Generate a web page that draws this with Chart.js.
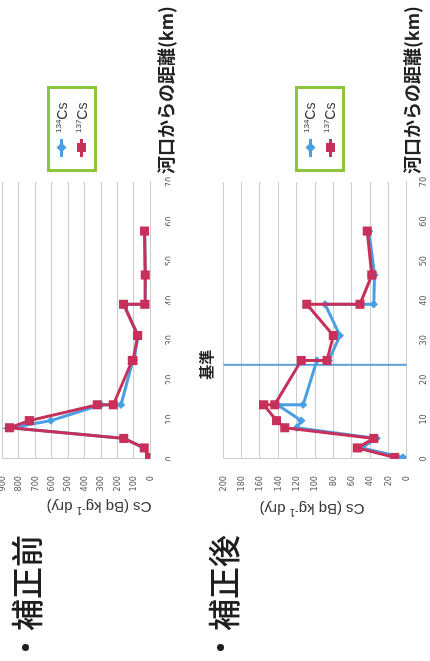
<!DOCTYPE html>
<html>
<head>
<meta charset="utf-8">
<script src="https://cdn.jsdelivr.net/npm/chart.js@4/dist/chart.umd.min.js"></script>
<style>
  html, body { margin: 0; padding: 0; background: #fff; width: 430px; height: 661px; overflow: hidden; }
  /* the slide is laid out landscape, then turned a quarter turn counter-clockwise */
  #slide { position: absolute; left: 0; top: 0; width: 661px; height: 430px;
           transform-origin: 0 0; transform: translateY(661px) rotate(-90deg);
           font-family: 'Noto Sans CJK JP', sans-serif; background: #fff; }
  canvas { position: absolute; left: 0; }
  #cvBefore { top: -20px; }
  #cvAfter { top: 180px; }
  .heading { position: absolute; left: 30px; font-size: 32px; line-height: 32px; font-weight: 500; color: #1e1e1e; white-space: nowrap; }
  .bullet { position: absolute; left: 10px; width: 7px; height: 7px; border-radius: 50%; background: #1e1e1e; }
  .xtitle { position: absolute; left: 487px; font-size: 18px; line-height: 18px; font-weight: 700; color: #222; white-space: nowrap; }
  .ytitle { position: absolute; width: 160px; height: 18px; text-align: center; font-family: 'Liberation Sans', Arial, sans-serif;
            font-size: 15px; line-height: 18px; color: #3a3a3a; transform: rotate(-90deg); white-space: nowrap; }
  .ytitle sup { font-size: 10px; line-height: 0; vertical-align: 5px; }
  .legend { position: absolute; left: 489px; width: 86px; height: 50px; box-sizing: border-box; border: 3px solid #8cc63f; background: #fff; }
  .lg-row { position: absolute; left: 0; width: 80px; height: 18px; }
  .lg-line { position: absolute; left: 12px; top: 7.5px; width: 18px; height: 3px; }
  .lg-sq { position: absolute; left: 17px; top: 4.5px; width: 9px; height: 9px; }
  .lg-dia { position: absolute; left: 18px; top: 5.5px; width: 7px; height: 7px; transform: rotate(45deg); }
  .lg-text { position: absolute; left: 36px; top: 0; font-family: 'Liberation Sans', Arial, sans-serif; font-size: 14px; line-height: 18px; color: #3a3a3a; white-space: nowrap; }
  .lg-text sup { font-size: 8px; line-height: 0; vertical-align: 6px; }
</style>
</head>
<body>
<div id="slide">
  <canvas id="cvBefore" width="661" height="200"></canvas>
  <canvas id="cvAfter" width="661" height="250"></canvas>

  <div class="bullet" style="top:21.5px"></div>
  <div class="heading" style="top:9px">補正前</div>
  <div class="bullet" style="top:217px"></div>
  <div class="heading" style="top:206px">補正後</div>

  <div class="ytitle" style="left:73.5px; top:89.5px">Cs (Bq kg<sup>-1</sup> dry)</div>
  <div class="ytitle" style="left:72px; top:302.7px">Cs (Bq kg<sup>-1</sup> dry)</div>

  <div class="xtitle" style="top:155.5px">河口からの距離(km)</div>
  <div class="xtitle" style="top:402px">河口からの距離(km)</div>

  <div class="legend" style="top:47px">
    <div class="lg-row" style="top:2.7px"><span class="lg-line" style="background:#4a9fe2"></span><span class="lg-dia" style="background:#4a9fe2"></span><span class="lg-text"><sup>134</sup>Cs</span></div>
    <div class="lg-row" style="top:22.7px"><span class="lg-line" style="background:#c8305a"></span><span class="lg-sq" style="background:#c8305a"></span><span class="lg-text"><sup>137</sup>Cs</span></div>
  </div>
  <div class="legend" style="top:295px">
    <div class="lg-row" style="top:3px"><span class="lg-line" style="background:#4a9fe2"></span><span class="lg-dia" style="background:#4a9fe2"></span><span class="lg-text"><sup>134</sup>Cs</span></div>
    <div class="lg-row" style="top:23px"><span class="lg-line" style="background:#c8305a"></span><span class="lg-sq" style="background:#c8305a"></span><span class="lg-text"><sup>137</sup>Cs</span></div>
  </div>
</div>

<script>
// Sampling stations: distance from the river mouth (km)
const distanceKm   = [0.4, 2.8, 5.2, 7.9, 9.7, 13.7, 13.7, 24.9, 24.9, 31.2, 39.1, 39.1, 46.5, 57.6];

// Before correction (Bq/kg dry)
const cs134Before  = [4, 40, 158, 845, 605, 300, 178, 106, 100, 74, 160, 30, 30, 34];
const cs137Before  = [5, 37, 161, 857, 736, 322, 225, 110, 106, 77, 163, 33, 31, 35];

// After correction (Bq/kg dry)
const cs134After   = [4, 49, 33, 120, 115, 141, 113, 98, 85, 73, 89, 36, 35, 41];
const cs137After   = [13, 54, 36, 133, 142, 156, 144, 115, 87, 80, 109, 51, 38, 43];

// Reference station used for the correction
const baselineKm   = 23.8;
const baselineText = '基準';

// Axis ticks
const distanceTicks  = [0, 10, 20, 30, 40, 50, 60, 70];
const csTicksBefore  = [0, 100, 200, 300, 400, 500, 600, 700, 800, 900];
const csTicksAfter   = [0, 20, 40, 60, 80, 100, 120, 140, 160, 180, 200];

const RED = '#c8305a';
const BLUE = '#4a9fe2';
const GRID = '#cdcdcd';
const TICK_FONT = { family: "'Liberation Sans Narrow', 'DejaVu Sans Condensed', 'Liberation Sans', sans-serif", size: 9 };

const toPoints = (xs, ys) => xs.map((x, i) => ({ x, y: ys[i] }));

function seriesSets(v134, v137) {
  return [
    { label: '137Cs', data: toPoints(distanceKm, v137), showLine: true, borderColor: RED, backgroundColor: RED,
      borderWidth: 3, pointStyle: 'rect', pointRadius: 6.4, pointBorderWidth: 0, tension: 0, order: 0 },
    { label: '134Cs', data: toPoints(distanceKm, v134), showLine: true, borderColor: BLUE, backgroundColor: BLUE,
      borderWidth: 3, pointStyle: 'rectRot', pointRadius: 4.2, pointBorderWidth: 0, tension: 0, order: 1 }
  ];
}

function scalesFor(csTicks, xPad) {
  return {
    x: {
      type: 'linear', min: distanceTicks[0], max: distanceTicks[distanceTicks.length - 1],
      afterBuildTicks: s => { s.ticks = distanceTicks.map(v => ({ value: v })); },
      afterFit: s => { s.height = 20; },
      grid: { display: false, drawTicks: false },
      border: { display: true, color: GRID, width: 1 },
      ticks: { font: TICK_FONT, color: '#5a5a5a', padding: xPad, maxRotation: 0 }
    },
    y: {
      type: 'linear', min: csTicks[0], max: csTicks[csTicks.length - 1],
      afterBuildTicks: s => { s.ticks = csTicks.map(v => ({ value: v })); },
      afterFit: s => { s.width = 202; },
      grid: { color: GRID, lineWidth: 1, drawTicks: false },
      border: { display: true, color: GRID, width: 1 },
      ticks: { font: TICK_FONT, color: '#5a5a5a', padding: 17 }
    }
  };
}

const baseOptions = (csTicks, padding, xPad) => ({
  responsive: false,
  devicePixelRatio: 1,
  animation: false,
  layout: { padding },
  plugins: { legend: { display: false }, tooltip: { enabled: false } },
  scales: scalesFor(csTicks, xPad)
});

// Label drawn above the reference-station line
const baselineLabel = {
  id: 'baselineLabel',
  afterDraw(chart) {
    const x = chart.scales.x.getPixelForValue(baselineKm);
    const ctx = chart.ctx;
    ctx.save();
    ctx.font = "bold 15px 'Noto Sans CJK JP', sans-serif";
    ctx.fillStyle = '#222';
    ctx.textAlign = 'center';
    ctx.textBaseline = 'middle';
    ctx.fillText(baselineText, x, chart.chartArea.top - 17);
    ctx.restore();
  }
};

new Chart(document.getElementById('cvBefore'), {
  type: 'scatter',
  data: { datasets: seriesSets(cs134Before, cs137Before) },
  options: baseOptions(csTicksBefore, { left: 0, right: 182, top: 16.4, bottom: 9.7 }, 14)
});

const afterSets = seriesSets(cs134After, cs137After);
afterSets.push({
  label: baselineText,
  data: [{ x: baselineKm, y: csTicksAfter[0] }, { x: baselineKm, y: csTicksAfter[csTicksAfter.length - 1] }],
  showLine: true, borderColor: '#5b9fd8', borderWidth: 2, pointRadius: 0, order: 2
});

new Chart(document.getElementById('cvAfter'), {
  type: 'scatter',
  data: { datasets: afterSets },
  options: baseOptions(csTicksAfter, { left: 0, right: 182, top: 43.3, bottom: 3.3 }, 12),
  plugins: [baselineLabel]
});
</script>
</body>
</html>
